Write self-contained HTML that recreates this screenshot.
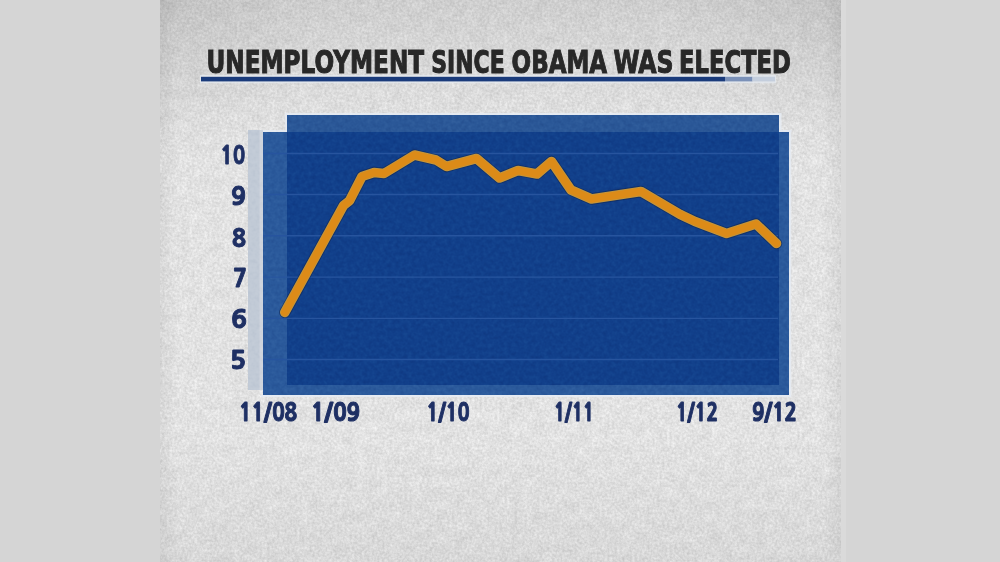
<!DOCTYPE html>
<html>
<head>
<meta charset="utf-8">
<style>
html,body{margin:0;padding:0;width:1000px;height:562px;overflow:hidden;background:#d5d5d5;}
svg{display:block;}
.t{font-family:"Liberation Sans",sans-serif;font-weight:bold;}
.d{font-family:"DejaVu Sans Condensed","DejaVu Sans","Liberation Sans",sans-serif;font-weight:bold;font-stretch:condensed;}
.n{font-family:"NanumGothic","Liberation Sans",sans-serif;font-weight:800;}
</style>
</head>
<body>
<svg width="1000" height="562" viewBox="0 0 1000 562">
  <defs>
    <filter id="noise" x="0" y="0" width="100%" height="100%" color-interpolation-filters="sRGB">
      <feTurbulence type="fractalNoise" baseFrequency="0.4" numOctaves="2" seed="3" result="fine0"/>
      <feColorMatrix in="fine0" type="matrix" values="0.17 0 0 0 0  0.17 0 0 0 0  0.17 0 0 0 0  0 0 0 0 1" result="f1"/>
      <feGaussianBlur in="f1" stdDeviation="0.3" result="f2"/>
      <feTurbulence type="fractalNoise" baseFrequency="0.09" numOctaves="3" seed="11" result="mid"/>
      <feColorMatrix in="mid" type="matrix" values="0.07 0 0 0 0  0.07 0 0 0 0  0.07 0 0 0 0  0 0 0 0 1" result="m2"/>
      <feComposite in="f2" in2="m2" operator="arithmetic" k1="0" k2="1" k3="1" k4="0.765"/>
    </filter>
    <filter id="bnoise" x="0" y="0" width="100%" height="100%" color-interpolation-filters="sRGB">
      <feTurbulence type="fractalNoise" baseFrequency="0.25" numOctaves="3" seed="7"/>
      <feColorMatrix type="matrix" values="0.35 0 0 0 0.33  0.35 0 0 0 0.33  0.35 0 0 0 0.33  0 0 0 0 1"/>
    </filter>
    <linearGradient id="vg" x1="0" y1="0" x2="0" y2="1">
      <stop offset="0" stop-color="#000" stop-opacity="0.09"/>
      <stop offset="0.08" stop-color="#000" stop-opacity="0.055"/>
      <stop offset="0.25" stop-color="#000" stop-opacity="0.0"/>
      <stop offset="0.78" stop-color="#000" stop-opacity="0.0"/>
      <stop offset="1" stop-color="#000" stop-opacity="0.045"/>
    </linearGradient>
    <linearGradient id="hg" x1="0" y1="0" x2="1" y2="0">
      <stop offset="0" stop-color="#000" stop-opacity="0.05"/>
      <stop offset="0.025" stop-color="#000" stop-opacity="0"/>
      <stop offset="0.975" stop-color="#000" stop-opacity="0"/>
      <stop offset="1" stop-color="#000" stop-opacity="0.05"/>
    </linearGradient>
    <radialGradient id="cornerL" cx="160" cy="0" r="170" gradientUnits="userSpaceOnUse">
      <stop offset="0" stop-color="#000" stop-opacity="0.06"/>
      <stop offset="1" stop-color="#000" stop-opacity="0"/>
    </radialGradient>
    <radialGradient id="cornerR" cx="841" cy="0" r="170" gradientUnits="userSpaceOnUse">
      <stop offset="0" stop-color="#000" stop-opacity="0.05"/>
      <stop offset="1" stop-color="#000" stop-opacity="0"/>
    </radialGradient>
  </defs>
  <!-- side bars -->
  <rect x="0" y="0" width="1000" height="562" fill="#d5d5d5"/>
  <!-- textured panel -->
  <rect x="160" y="0" width="681" height="562" fill="#dcdcdc" filter="url(#noise)"/>
  <rect x="160" y="0" width="681" height="562" fill="url(#vg)"/>
  <rect x="160" y="0" width="681" height="562" fill="url(#hg)"/>
  <rect x="160" y="0" width="681" height="200" fill="url(#cornerL)"/>
  <rect x="160" y="0" width="681" height="200" fill="url(#cornerR)"/>
  <rect x="841" y="0" width="5" height="562" fill="#dadada"/>

  <!-- title -->
  <g class="d" font-size="31.8" fill="#282828" stroke="#282828" stroke-width="1.0">
    <text x="206.50" y="73.00" textLength="217.60" lengthAdjust="spacingAndGlyphs">UNEMPLOYMENT</text>
    <text x="431.30" y="73.00" textLength="73.40" lengthAdjust="spacingAndGlyphs">SINCE</text>
    <text x="511.60" y="73.00" textLength="95.50" lengthAdjust="spacingAndGlyphs">OBAMA</text>
    <text x="613.40" y="73.00" textLength="60.20" lengthAdjust="spacingAndGlyphs">WAS</text>
    <text x="679.10" y="73.00" textLength="111.60" lengthAdjust="spacingAndGlyphs">ELECTED</text>
  </g>
  <!-- underline -->
  <rect x="200" y="75" width="576" height="8.2" fill="#e4e9f0" opacity="0.75"/>
  <rect x="201" y="76.8" width="524" height="4.6" fill="#1a3b7b"/>
  <rect x="725" y="76.8" width="27.5" height="4.6" fill="#7b91b8"/>
  <rect x="752.5" y="76.8" width="22.5" height="4.6" fill="#c4cedd"/>

  <!-- chart rects -->
  <g fill="#e6ecf4" opacity="0.85">
    <rect x="285.2" y="113" width="495.8" height="2"/>
    <rect x="285.2" y="113" width="2" height="19"/>
    <rect x="779" y="113" width="2.5" height="19"/>
    <rect x="261" y="130" width="26.2" height="2"/>
    <rect x="779" y="130" width="12.5" height="2"/>
    <rect x="789" y="130" width="2.2" height="267"/>
    <rect x="261" y="395" width="530" height="2"/>
  </g>
  <rect x="248" y="130" width="15" height="260" fill="#c1cad6"/>
  <rect x="259.5" y="130" width="3.5" height="260" fill="#d3d8e0" opacity="0.7"/>
  <rect x="263" y="132" width="526" height="263" fill="#2a599b"/>
  <rect x="287" y="115" width="492" height="17" fill="#2a5797"/>
  <rect x="287" y="132" width="492" height="253" fill="#113f8a"/>

  <rect x="248" y="115" width="541" height="280" fill="#808080" filter="url(#bnoise)" style="mix-blend-mode:soft-light" opacity="0.5"/>
  <!-- gridlines -->
  <g stroke="#27549e" stroke-width="1.4">
    <line x1="263" y1="153.5" x2="778" y2="153.5"/>
    <line x1="263" y1="194.5" x2="778" y2="194.5"/>
    <line x1="263" y1="235.7" x2="778" y2="235.7"/>
    <line x1="263" y1="277.1" x2="778" y2="277.1"/>
    <line x1="263" y1="318.4" x2="778" y2="318.4"/>
    <line x1="263" y1="359.5" x2="778" y2="359.5"/>
  </g>

  <!-- line -->
  <g fill="none" stroke-linejoin="round" stroke-linecap="round">
    <polyline stroke="#14254a" stroke-opacity="0.55" stroke-width="11.4" points="284.8,312.4 343.5,205.5 349.5,200.8 362,176.5 374,172.5 384,173.5 414.5,155 436,160 446.5,166.5 476.5,158.5 499.5,178 518,170.5 537,174 551.5,161.5 571,190 591.5,199 641,191.5 680,214.3 695,221.5 726.5,233.5 756,224 776.5,243.5"/>
    <polyline stroke="#c2953c" stroke-width="9.6" points="284.8,312.4 343.5,205.5 349.5,200.8 362,176.5 374,172.5 384,173.5 414.5,155 436,160 446.5,166.5 476.5,158.5 499.5,178 518,170.5 537,174 551.5,161.5 571,190 591.5,199 641,191.5 680,214.3 695,221.5 726.5,233.5 756,224 776.5,243.5"/>
    <polyline stroke="#dc8b18" stroke-width="7.6" points="284.8,312.4 343.5,205.5 349.5,200.8 362,176.5 374,172.5 384,173.5 414.5,155 436,160 446.5,166.5 476.5,158.5 499.5,178 518,170.5 537,174 551.5,161.5 571,190 591.5,199 641,191.5 680,214.3 695,221.5 726.5,233.5 756,224 776.5,243.5"/>
  </g>

  <!-- y labels -->
  <g class="n" fill="#1f3064" stroke="#1f3064" stroke-width="0.9" font-size="24.3" text-anchor="end">
    <text x="245.00" y="163.50" textLength="24.50" lengthAdjust="spacingAndGlyphs">10</text>
    <text x="246.00" y="204.50" textLength="15.00" lengthAdjust="spacingAndGlyphs">9</text>
    <text x="246.00" y="247.00" textLength="14.00" lengthAdjust="spacingAndGlyphs">8</text>
    <text x="247.00" y="286.50" textLength="14.00" lengthAdjust="spacingAndGlyphs">7</text>
    <text x="247.00" y="327.50" textLength="16.00" lengthAdjust="spacingAndGlyphs">6</text>
    <text x="246.00" y="369.00" textLength="16.00" lengthAdjust="spacingAndGlyphs">5</text>
  </g>
  <!-- x labels -->
  <g class="n" fill="#1f3064" stroke="#1f3064" stroke-width="1.0" font-size="23.4">
    <text x="239.00" y="420.50" textLength="58.00" lengthAdjust="spacingAndGlyphs">11/08</text>
    <text x="311.00" y="420.50" textLength="49.00" lengthAdjust="spacingAndGlyphs">1/09</text>
    <text x="426.50" y="420.50" textLength="43.00" lengthAdjust="spacingAndGlyphs">1/10</text>
    <text x="554.00" y="420.50" textLength="40.00" lengthAdjust="spacingAndGlyphs">1/11</text>
    <text x="676.00" y="420.50" textLength="42.00" lengthAdjust="spacingAndGlyphs">1/12</text>
    <text x="752.00" y="420.50" textLength="45.00" lengthAdjust="spacingAndGlyphs">9/12</text>
  </g>
</svg>
</body>
</html>
